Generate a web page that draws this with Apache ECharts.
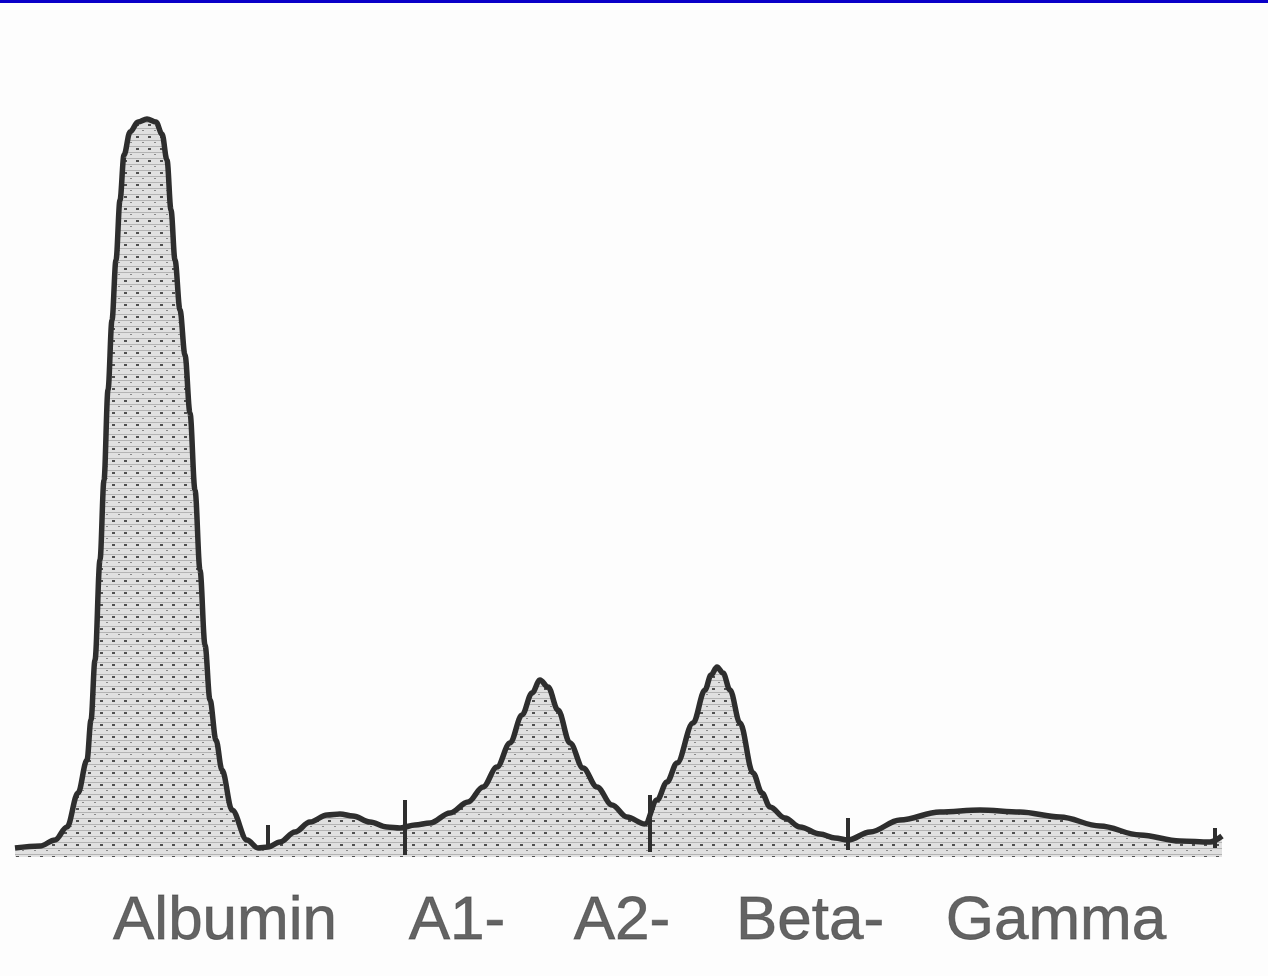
<!DOCTYPE html>
<html>
<head>
<meta charset="utf-8">
<script src="https://cdn.jsdelivr.net/npm/echarts@6/dist/echarts.min.js"></script>
<style>
html,body{margin:0;padding:0;background:#fdfdfd;}
#chart{width:1268px;height:976px;}
</style>
</head>
<body>
<div id="chart"></div>
<script>
// Densitometry trace (position along strip, relative intensity)
const curveX = [15,40,55,67,78,87,91,95,100,104,108,112,116,120,124,130,138,147,156,162,167,171,175,180,185,190,195,200,205,210,216,222,232,247,258,268,280,295,310,327,340,353,370,387,400,415,430,450,468,483,497,510,522,532,540,548,558,570,583,597,612,627,645,657,667,677,693,705,711,717,723,730,740,753,762,770,785,800,820,835,848,870,900,940,980,1020,1060,1100,1140,1180,1210,1222];
const curveY = [2,4,10,23,57,90,130,190,290,370,460,530,590,650,695,718,728,731,728,716,690,640,590,540,495,437,360,280,205,150,110,80,40,10,2,3,8,18,28,35,36,34,28,23,22,25,27,37,48,63,83,107,135,157,170,163,140,107,82,63,45,33,26,50,68,87,127,160,175,183,177,160,127,77,57,43,32,23,16,12,10,18,30,38,40,38,33,24,15,9,8,14];

// Fraction dividers
const dividerX = [268, 405, 650, 848, 1215];
const dividerLow = [2, -5, -2, 0, 2];
const dividerHigh = [25, 50, 55, 32, 22];

// Fraction labels
const labelNames = ['Albumin', 'A1-', 'A2-', 'Beta-', 'Gamma'];
const labelX = [225, 457, 622, 810, 1056];
const labelY = [-72, -72, -72, -72, -72];

// dotted fill pattern
function makePattern() {
  const c = document.createElement('canvas');
  c.width = 12; c.height = 12;
  const g = c.getContext('2d');
  g.fillStyle = '#e0e0e0'; g.fillRect(0, 0, 12, 12);
  g.fillStyle = '#b4b4b4'; g.fillRect(0, 2, 12, 1); g.fillRect(0, 8, 12, 1);
  g.fillStyle = '#505050'; g.fillRect(4, 4, 3, 2);
  g.fillStyle = '#888888'; g.fillRect(10, 10, 2, 1);
  return c;
}

const chart = echarts.init(document.getElementById('chart'), null, {renderer: 'canvas'});
const lineData = curveX.map((x, i) => [x, curveY[i]]);
const markData = dividerX.map((x, i) => [{coord: [x, dividerLow[i]]}, {coord: [x, dividerHigh[i]]}]);
const labelData = labelNames.map((n, i) => ({name: n, value: [labelX[i], labelY[i]]}));

chart.setOption({
  backgroundColor: '#fdfdfd',
  animation: false,
  grid: {left: 0, right: 0, top: 0, bottom: 0},
  xAxis: {type: 'value', min: 0, max: 1268, show: false, splitLine: {show: false}},
  yAxis: {type: 'value', min: -126, max: 850, show: false, splitLine: {show: false}},
  graphic: [{type: 'rect', left: 0, top: 0, shape: {width: 1268, height: 3}, style: {fill: '#0a00c8'}}],
  series: [
    {
      type: 'line',
      data: lineData,
      smooth: 0.35,
      smoothMonotone: 'x',
      symbol: 'none',
      lineStyle: {color: '#2e2e2e', width: 5.5},
      areaStyle: {origin: -7, color: {image: makePattern(), repeat: 'repeat'}, opacity: 1},
      markLine: {
        silent: true,
        symbol: 'none',
        label: {show: false},
        lineStyle: {color: '#2e2e2e', width: 4, type: 'solid'},
        data: markData
      },
      z: 2
    },
    {
      type: 'scatter',
      data: labelData,
      symbol: 'circle',
      symbolSize: 1,
      itemStyle: {color: 'rgba(0,0,0,0)'},
      label: {
        show: true,
        position: 'inside',
        formatter: '{b}',
        color: '#3c3c3c',
        fontSize: 62,
        fontFamily: 'Liberation Sans, Arial, sans-serif',
        textBorderColor: '#6a6a6a',
        textBorderWidth: 0.8
      },
      z: 3
    }
  ]
});
</script>
</body>
</html>
